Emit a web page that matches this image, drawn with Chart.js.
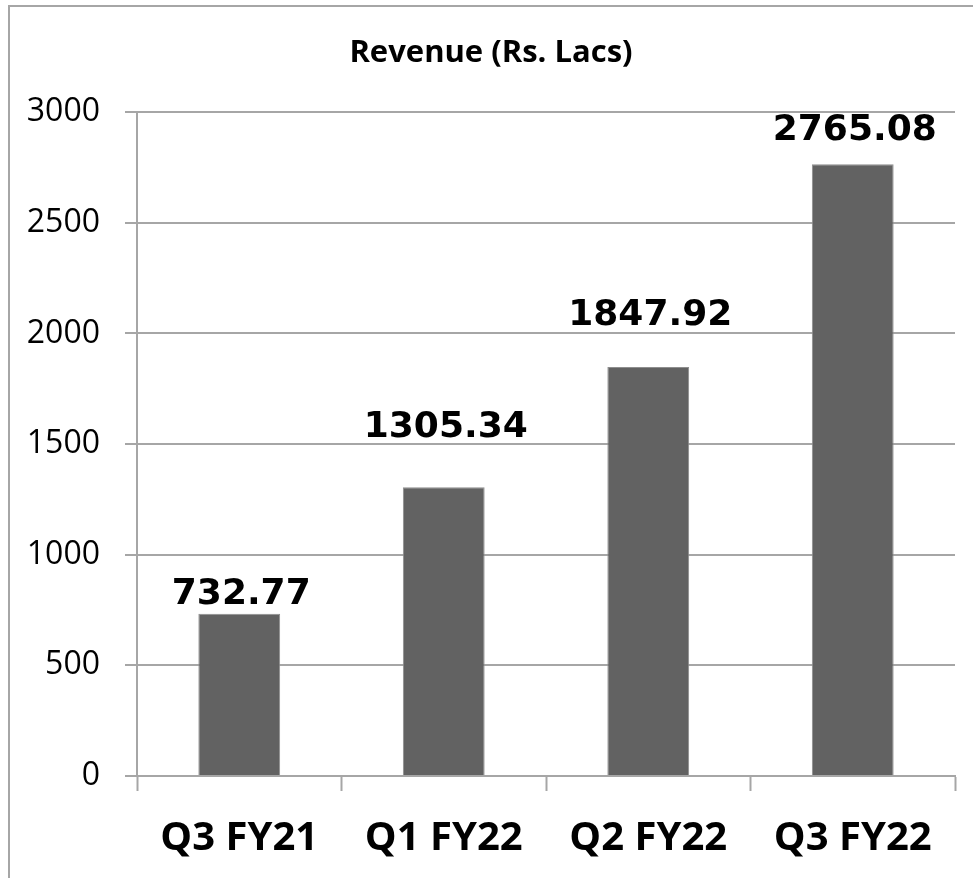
<!DOCTYPE html>
<html>
<head>
<meta charset="utf-8">
<script src="https://cdn.jsdelivr.net/npm/chart.js@4"></script>
<style>
  html, body { margin: 0; padding: 0; background: #fff; }
  #frame {
    position: absolute; left: 8px; top: 5px; width: 965px; height: 873px;
    border-left: 2px solid #a6a6a6; border-top: 2px solid #a6a6a6;
    box-sizing: border-box;
  }
  #wrap { position: absolute; left: 0; top: 0; width: 973px; height: 878px; }
</style>
</head>
<body>
<div id="frame"></div>
<div id="wrap"><canvas id="bar-revenue"></canvas></div>
<script>
// chart data
var quarters = ["Q3 FY21", "Q1 FY22", "Q2 FY22", "Q3 FY22"];
var revenue = [732.77, 1305.34, 1847.92, 2765.08];
var yTicks = [0, 500, 1000, 1500, 2000, 2500, 3000];

// value labels above the bars (bold, like the original)
var valueLabels = {
  id: "valueLabels",
  afterDatasetsDraw: function(chart, args, opts) {
    var ctx = chart.ctx;
    var meta = chart.getDatasetMeta(0);
    ctx.save();
    ctx.font = "bold 36px 'DejaVu Sans'";
    ctx.fillStyle = "#000";
    ctx.textAlign = "center";
    ctx.textBaseline = "alphabetic";
    meta.data.forEach(function(bar, i) {
      var lift = opts.lift[i] || 20;
      ctx.fillText(revenue[i].toFixed(2), bar.x + 2, bar.y - lift);
    });
    ctx.restore();
  }
};

var ctx = document.getElementById("bar-revenue");

var data = {
  labels: quarters,
  datasets: [
    {
      label: "Revenue",
      data: revenue,
      backgroundColor: "#626262",
      borderColor: "#8e8e8e",
      borderWidth: 1,
      barPercentage: 0.4,
      categoryPercentage: 1.0
    }
  ]
};

var options = {
  responsive: true,
  maintainAspectRatio: false,
  animation: false,
  layout: {
    padding: { left: 27, right: 18, top: 0, bottom: 0 }
  },
  plugins: {
    legend: { display: false },
    tooltip: { enabled: false },
    title: {
      display: true,
      text: "Revenue (Rs. Lacs)",
      color: "#000",
      font: { family: "'Open Sans'", size: 31, weight: "bold", lineHeight: 1.2 },
      padding: { top: 35, bottom: 40 }
    },
    valueLabels: { lift: [10, 50, 42, 24] }
  },
  scales: {
    x: {
      offset: true,
      grid: {
        offset: true,
        drawOnChartArea: false,
        drawTicks: true,
        tickLength: 15,
        tickWidth: 2,
        tickColor: "#a6a6a6"
      },
      border: { display: true, color: "#a6a6a6", width: 2 },
      ticks: {
        color: "#000",
        padding: 24,
        font: { family: "'Open Sans'", size: 40, weight: "bold" }
      },
      afterFit: function(scale) { scale.height = 878 - 776; }
    },
    y: {
      min: 0,
      max: 3000,
      afterBuildTicks: function(scale) {
        scale.ticks = yTicks.map(function(v) { return { value: v }; });
      },
      grid: {
        color: "#a6a6a6",
        lineWidth: 2,
        drawTicks: true,
        tickLength: 12
      },
      border: { display: true, color: "#a6a6a6", width: 2 },
      ticks: {
        color: "#000",
        padding: 25,
        font: { family: "'Open Sans'", size: 32 },
        callback: function(value) { return String(value); }
      },
      afterFit: function(scale) { scale.width = 137 - 27; }
    }
  }
};

var chart = new Chart(ctx, {
  type: "bar",
  data: data,
  options: options,
  plugins: [valueLabels]
});
</script>
</body>
</html>
